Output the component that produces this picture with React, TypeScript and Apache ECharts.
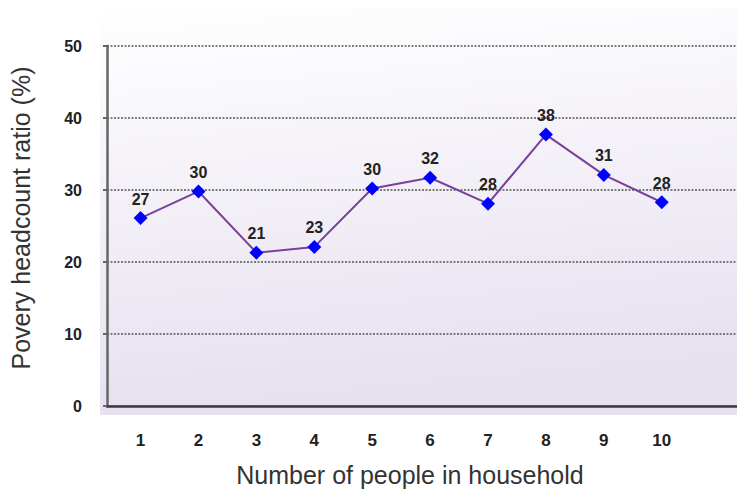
import React, { useEffect, useRef } from "react";
import * as echarts from "echarts";

const householdSizes = [1, 2, 3, 4, 5, 6, 7, 8, 9, 10];
const povertyRatio = [26.1, 29.8, 21.3, 22.1, 30.2, 31.7, 28.1, 37.7, 32.1, 28.3];
const pointLabels = ["27", "30", "21", "23", "30", "32", "28", "38", "31", "28"];
const yTicks = [0, 10, 20, 30, 40, 50];

export default function App() {
  const ref = useRef<HTMLDivElement>(null);
  useEffect(() => {
    if (!ref.current) return;
    const chart = echarts.init(ref.current, null, { renderer: "svg" });
    const font = "'Liberation Sans', Arial, Helvetica, sans-serif";
    chart.setOption({
      animation: false,
      backgroundColor: "#ffffff",
      textStyle: { fontFamily: font },
      graphic: [
        {
          type: "rect",
          z: -10,
          silent: true,
          shape: { x: 100, y: 8, width: 637, height: 407 },
          style: {
            fill: new echarts.graphic.LinearGradient(0, 0, 0.15, 1, [
              { offset: 0, color: "#ffffff" },
              { offset: 1, color: "#e6e0ef" },
            ]),
          },
        },
      ],
      grid: { left: 107, right: 0, top: 46, bottom: 83, containLabel: false, outerBoundsMode: "none" },
      xAxis: {
        type: "value",
        min: 0.42,
        max: 11.3,
        name: "Number of people in household",
        nameLocation: "middle",
        nameGap: 56,
        nameTextStyle: { fontSize: 25, color: "#333", fontFamily: font, padding: [0, 24, 0, 0] },
        axisLine: { show: true, onZero: false, lineStyle: { color: "#3a3a3a", width: 2.5 } },
        axisTick: { show: false },
        splitLine: { show: false },
        axisLabel: {
          customValues: householdSizes,
          margin: 26,
          fontSize: 17,
          fontWeight: "bold",
          color: "#222",
          fontFamily: font,
        },
      },
      yAxis: {
        type: "value",
        min: 0,
        max: 50,
        interval: 10,
        name: "Povery headcount ratio (%)",
        nameLocation: "middle",
        nameGap: 74,
        nameTextStyle: { fontSize: 25, color: "#333", fontFamily: font, padding: [0, 0, 0, 16] },
        axisLine: { show: true, lineStyle: { color: "#666", width: 2.5 } },
        axisTick: { show: true, inside: false, length: 4, lineStyle: { color: "#666", width: 2 } },
        axisLabel: {
          margin: 25,
          fontSize: 16,
          fontWeight: "bold",
          color: "#222",
          fontFamily: font,
          formatter: (v: number) => (yTicks.includes(v) ? String(v) : ""),
        },
        splitLine: {
          show: true,
          lineStyle: { color: "#555", width: 1.5, type: [2, 1.5] },
        },
      },
      series: [
        {
          type: "line",
          data: householdSizes.map((x, i) => [x, povertyRatio[i]]),
          symbol: "diamond",
          symbolSize: 14,
          itemStyle: { color: "#0000ff" },
          lineStyle: { color: "#7b3f9d", width: 2 },
          label: {
            show: true,
            position: "top",
            distance: 4,
            fontSize: 16,
            fontWeight: "bold",
            color: "#222",
            fontFamily: font,
            formatter: (p: any) => pointLabels[p.dataIndex],
          },
          z: 5,
        },
      ],
    });
    return () => chart.dispose();
  }, []);
  return <div ref={ref} style={{ width: 737, height: 489, position: "absolute", left: 0, top: 0 }} />;
}
